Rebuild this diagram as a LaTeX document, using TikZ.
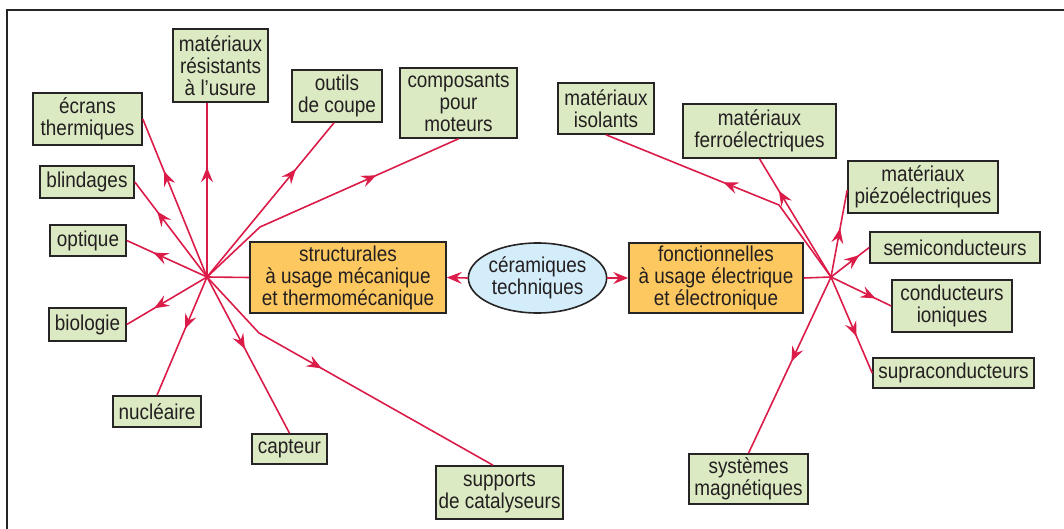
\documentclass[tikz,border=0pt]{standalone}
\usepackage{fontspec}
\setmainfont{Liberation Sans}[FakeStretch=0.88]
\usetikzlibrary{arrows.meta,decorations.markings,shapes.geometric}
\definecolor{linkred}{RGB}{219,28,72}
\definecolor{leafgreen}{RGB}{220,234,196}
\definecolor{branchorange}{RGB}{253,200,96}
\definecolor{rootblue}{RGB}{212,237,250}
\definecolor{boxline}{RGB}{38,36,37}
\definecolor{ink}{RGB}{35,31,32}
\begin{document}
\begin{tikzpicture}[x=1pt,y=-1pt,
  box/.style={draw=boxline, line width=1.6pt, text=ink, align=center, inner sep=0pt,
    font=\fontsize{21.5}{22}\selectfont},
  sz/.style 2 args={minimum width=#1pt, minimum height=#2pt},
  leaf/.style={box, fill=leafgreen},
  branch/.style={box, fill=branchorange},
  link/.style={draw=linkred, color=linkred, line width=1.6pt, line join=round},
  headtip/.tip={Stealth[length=15pt, width=12pt, inset=5.5pt]},
  tipmark/.style={postaction={decorate}, decoration={markings,
    mark=at position #1 with {\arrow{headtip}}}}
]
\useasboundingbox (0,0) rectangle (1064,529);
% outer frame (open at the right and bottom)
\draw[boxline, line width=1.8pt] (7,529) -- (7,10) -- (1064,10);

% centre
\node[ellipse, draw=boxline, line width=1.6pt, fill=rootblue, text=ink, align=center,
  inner sep=0pt, sz={129}{70}, font=\fontsize{21.5}{22}\selectfont]
  (cer) at (537.5,278) {céramiques\\techniques};
\node[branch, sz={196}{71}] (str) at (348,277.5) {structurales\\à usage mécanique\\et thermomécanique};
\node[branch, sz={174}{70}] (fon) at (716,278) {fonctionnelles\\à usage électrique\\et électronique};

% structural applications
\node[leaf, sz={95}{73}]  (res) at (220.5,65.5) {matériaux\\résistants\\à l’usure};
\node[leaf, sz={109}{52}] (ecr) at (87.5,119) {écrans\\thermiques};
\node[leaf, sz={94}{32}]  (bli) at (87,182) {blindages};
\node[leaf, sz={76}{31}]  (opt) at (88,240.5) {optique};
\node[leaf, sz={77}{33}]  (bio) at (87.5,324.5) {biologie};
\node[leaf, sz={88}{31}]  (nuc) at (157,411.5) {nucléaire};
\node[leaf, sz={75}{30}]  (cap) at (289.5,449) {capteur};
\node[leaf, sz={127}{53}] (sup) at (499.5,492.5) {supports\\de catalyseurs};
\node[leaf, sz={90}{52}]  (out) at (337,96) {outils\\de coupe};
\node[leaf, sz={117}{70}] (com) at (458.5,103) {composants\\pour\\moteurs};

% functional applications
\node[leaf, sz={96}{51}]  (iso) at (606,108.5) {matériaux\\isolants};
\node[leaf, sz={153}{54}] (fer) at (759.5,131) {matériaux\\ferroélectriques};
\node[leaf, sz={150}{52}] (pie) at (923,187) {matériaux\\piézoélectriques};
\node[leaf, sz={170}{31}] (sem) at (955,247.5) {semiconducteurs};
\node[leaf, sz={120}{52}] (ion) at (952,306) {conducteurs\\ioniques};
\node[leaf, sz={161}{30}] (spc) at (953.5,373) {supraconducteurs};
\node[leaf, sz={119}{50}] (mag) at (748.5,479) {systèmes\\magnétiques};

% hubs and bends
\coordinate (hl) at (207,277);
\coordinate (hr) at (831,277);
\coordinate (bs) at (259,333);
\coordinate (bc) at (260,227);
\coordinate (bi) at (779,205);

% centre links
\draw[link, -{headtip}] (cer.west) -- (str.east);
\draw[link, -{headtip}] (cer.east) -- (fon.west);
\draw[link] (str.west) -- (hl);
\draw[link] (fon.east) -- (hr);

% left star
\draw[link, tipmark=0.63] (hl) -- (hl |- res.south);
\draw[link, tipmark=0.67] (hl) -- (ecr.east);
\draw[link, tipmark=0.69] (hl) -- (bli.east);
\draw[link, tipmark=0.67] (hl) -- (opt.east);
\draw[link, tipmark=0.66] (hl) -- (bio.east);
\draw[link, tipmark=0.44] (hl) -- (nuc.north);
\draw[link, tipmark=0.46] (hl) -- (cap.north);
\draw[link, tipmark=0.43] (hl) -- (bs) -- ([xshift=-6.5pt]sup.north);
\draw[link, tipmark=0.70] (hl) -- ([xshift=-3pt]out.south);
\draw[link, tipmark=0.69] (hl) -- (bc) -- (com.south);

% right star
\draw[link, tipmark=0.54] (hr) -- (bi) -- (iso.south);
\draw[link, tipmark=0.73] (hr) -- (fer.south);
\draw[link, tipmark=0.56] (hr) -- ([yshift=-3pt]pie.west);
\draw[link, tipmark=0.74] (hr) -- (sem.west);
\draw[link, tipmark=0.74] (hr) -- (ion.west);
\draw[link, tipmark=0.62] (hr) -- (spc.west);
\draw[link, tipmark=0.48] (hr) -- (mag.north);
\end{tikzpicture}
\end{document}
